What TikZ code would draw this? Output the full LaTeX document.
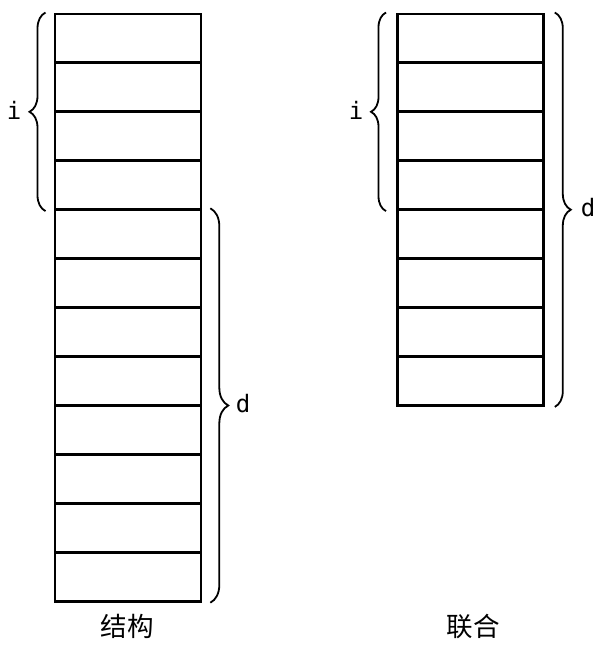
\documentclass[tikz,border=0pt]{standalone}
\usepackage{fontspec}
\newfontfamily\monofont{DejaVu Sans Mono}
\newfontfamily\cjk{Noto Sans CJK SC}
\usetikzlibrary{decorations.pathreplacing,calc}
\begin{document}
\begin{tikzpicture}[x=1pt,y=-1pt,
  cell/.style={draw,line width=2.8pt,minimum width=146pt,minimum height=48.95pt,inner sep=0pt,anchor=north west},
  brc/.style={decorate,decoration={brace,amplitude=#1},line width=1.8pt},
  brc/.default=15pt,
  lab/.style={font=\monofont\fontsize{24}{28}\selectfont,inner sep=0pt},
  captxt/.style={font=\cjk\fontsize{26.5}{30}\selectfont,inner sep=0pt}]
\useasboundingbox (0,0) rectangle (611,654);
% left stack
\foreach \k in {1,...,12}{
  \node[cell] (L\k) at (53.5,{12.5+48.95*(\k-1)}) {};
}
% right stack
\foreach \k in {1,...,8}{
  \node[cell] (R\k) at (396,{12.5+48.95*(\k-1)}) {};
}
% braces
\coordinate (Lib) at ($(L4.south west)+(-8,0)$);
\coordinate (Lit) at ($(L1.north west)+(-8,0)$);
\draw[brc=16pt] (Lib) -- (Lit);
\node[lab] (li) at (14,110) {i};
\coordinate (Ldt) at ($(L5.north east)+(8,0)$);
\coordinate (Ldb) at ($(L12.south east)+(8,0)$);
\draw[brc=18pt] (Ldt) -- (Ldb);
\node[lab] (ld) at (243,404) {d};
\coordinate (Rib) at ($(R4.south west)+(-10,0)$);
\coordinate (Rit) at ($(R1.north west)+(-10,0)$);
\draw[brc=15pt] (Rib) -- (Rit);
\node[lab] (ri) at (356,110) {i};
\coordinate (Rdt) at ($(R1.north east)+(10,0)$);
\coordinate (Rdb) at ($(R8.south east)+(10,0)$);
\draw[brc=16pt] (Rdt) -- (Rdb);
\node[lab] (rd) at (588,208) {d};
% captions
\node[captxt] (c1) at (127,626) {结构};
\node[captxt] (c2) at (473,626) {联合};
\end{tikzpicture}
\end{document}
